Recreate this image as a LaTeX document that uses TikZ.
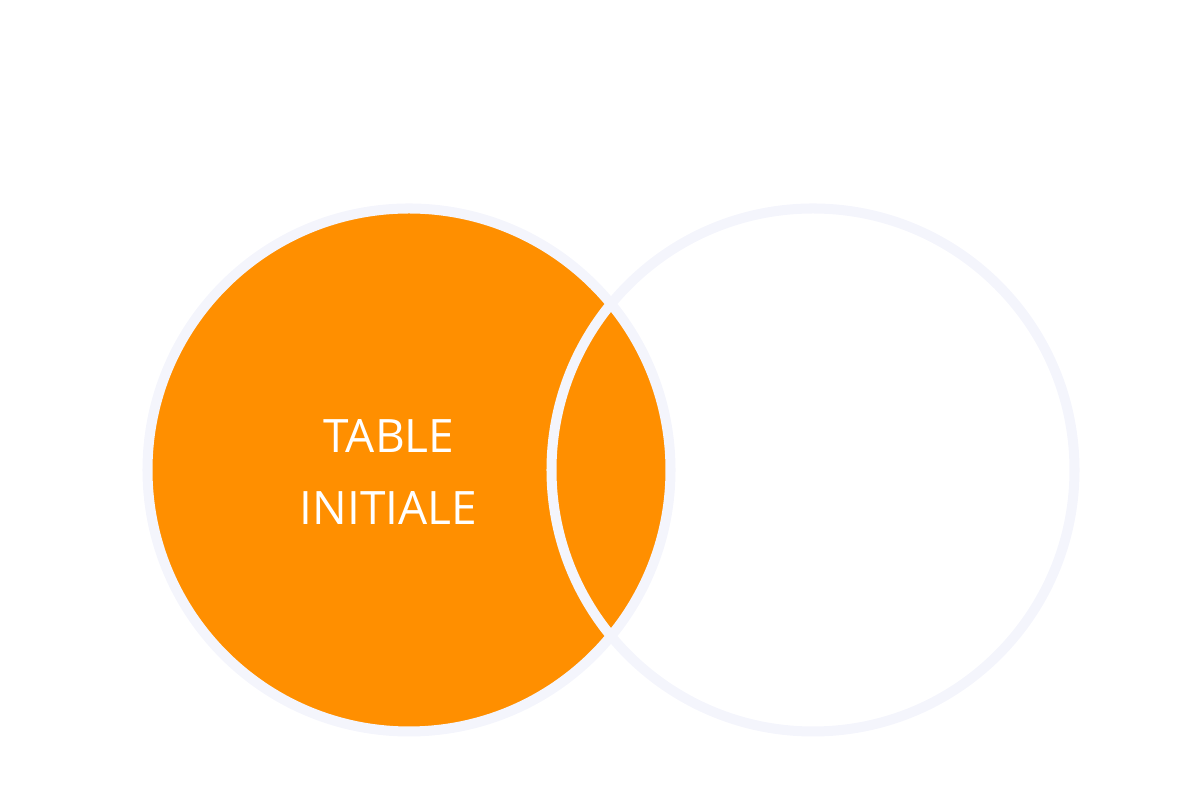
\documentclass[tikz,border=0pt]{standalone}
\usepackage{fontspec}
\setmainfont{Open Sans}
\usepackage{tikz}
\usetikzlibrary{positioning}
\definecolor{setorange}{RGB}{255,143,0}
\definecolor{setrim}{RGB}{244,245,252}

\begin{document}
\begin{tikzpicture}[font=\fontsize{13.1}{20.5}\selectfont,
  rim/.style={draw=setrim,line width=2.85pt},
  settext/.style={white,inner sep=0pt,anchor=base}]
\useasboundingbox (0,0) rectangle (12,8);
\coordinate (L) at (4.09,3.30);
\coordinate (R) at (8.13,3.30);
% left set filled, then both rims on top
\fill[setorange] (L) circle (2.615);
\draw[rim] (L) circle (2.615);
\draw[rim] (R) circle (2.615);
% label of the left set
\node[settext] (tab) at (3.89,3.47) {TABLE};
\node[settext] (ini) at (3.885,2.75) {INITIALE};
\end{tikzpicture}
\end{document}
